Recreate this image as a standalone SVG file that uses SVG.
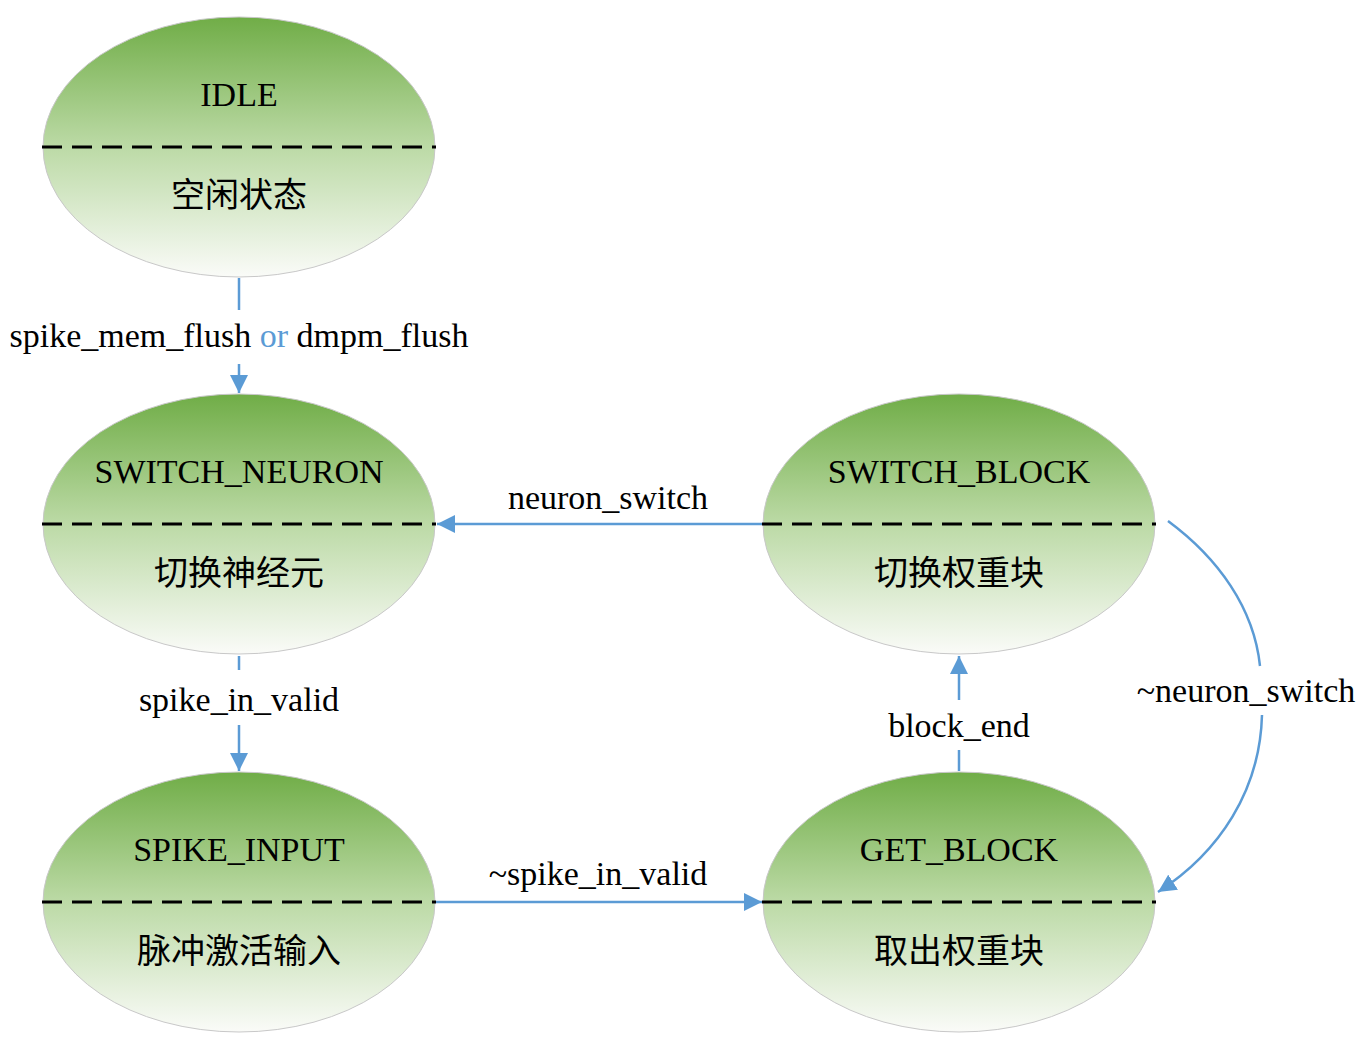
<svg xmlns="http://www.w3.org/2000/svg" width="1364" height="1044" viewBox="0 0 1364 1044">
<defs>
<linearGradient id="g" x1="0" y1="0" x2="0" y2="1">
<stop offset="0" stop-color="#70AD47"/>
<stop offset="0.5" stop-color="#BCDAA6"/>
<stop offset="1" stop-color="#FAFBF8"/>
</linearGradient>
<marker id="arr" markerUnits="userSpaceOnUse" markerWidth="20" markerHeight="18" refX="18" refY="9" orient="auto">
<path d="M0,0 L18,9 L0,18 Z" fill="#5B9BD5"/>
</marker>
<style>
.st ellipse{fill:url(#g);stroke:#C8C8C8;stroke-width:1}
.st line{stroke:#000;stroke-width:3;stroke-dasharray:20 10}
.t{font-family:"Liberation Serif","Times New Roman",serif;font-size:34px;fill:#000;text-anchor:middle}
.c{font-family:"Noto Sans CJK SC","Noto Sans",sans-serif;font-size:34px;fill:#000;text-anchor:middle}
.e{stroke:#5B9BD5;stroke-width:2.5;fill:none}
.lb{font-family:"Liberation Serif","Times New Roman",serif;font-size:34px;fill:#000;text-anchor:middle}
</style>
</defs>
<g id="IDLE" class="st">
<ellipse cx="239" cy="147" rx="196" ry="130"/>
<line x1="42" y1="147" x2="436" y2="147"/>
<text class="t" x="239" y="106">IDLE</text>
<text class="c" x="239" y="207">空闲状态</text>
</g>
<g id="SWITCH_NEURON" class="st">
<ellipse cx="239" cy="524" rx="196" ry="130"/>
<line x1="42" y1="524" x2="436" y2="524"/>
<text class="t" x="239" y="483">SWITCH_NEURON</text>
<text class="c" x="239" y="585">切换神经元</text>
</g>
<g id="SPIKE_INPUT" class="st">
<ellipse cx="239" cy="902" rx="196" ry="130"/>
<line x1="42" y1="902" x2="436" y2="902"/>
<text class="t" x="239" y="861">SPIKE_INPUT</text>
<text class="c" x="239" y="963">脉冲激活输入</text>
</g>
<g id="SWITCH_BLOCK" class="st">
<ellipse cx="959" cy="524" rx="196" ry="130"/>
<line x1="762" y1="524" x2="1156" y2="524"/>
<text class="t" x="959" y="483">SWITCH_BLOCK</text>
<text class="c" x="959" y="585">切换权重块</text>
</g>
<g id="GET_BLOCK" class="st">
<ellipse cx="959" cy="902" rx="196" ry="130"/>
<line x1="762" y1="902" x2="1156" y2="902"/>
<text class="t" x="959" y="861">GET_BLOCK</text>
<text class="c" x="959" y="963">取出权重块</text>
</g>
<g id="connectors">
<line class="e" x1="239" y1="278" x2="239" y2="310"/>
<line class="e" x1="239" y1="364" x2="239" y2="393" marker-end="url(#arr)"/>
<text class="lb" x="239" y="347">spike_mem_flush <tspan fill="#5B9BD5">or</tspan> dmpm_flush</text>

<line class="e" x1="762" y1="524" x2="437" y2="524" marker-end="url(#arr)"/>
<text class="lb" x="608" y="509">neuron_switch</text>

<line class="e" x1="239" y1="656" x2="239" y2="670"/>
<line class="e" x1="239" y1="725" x2="239" y2="771" marker-end="url(#arr)"/>
<text class="lb" x="239" y="711">spike_in_valid</text>

<line class="e" x1="436" y1="902" x2="762" y2="902" marker-end="url(#arr)"/>
<text class="lb" x="598" y="885">~spike_in_valid</text>

<line class="e" x1="959" y1="771" x2="959" y2="750"/>
<line class="e" x1="959" y1="700" x2="959" y2="656" marker-end="url(#arr)"/>
<text class="lb" x="959" y="737">block_end</text>

<path class="e" d="M1168,521 C1218,558 1254,608 1260,666"/>
<path class="e" d="M1262,715 C1260,790 1220,852 1158,892" marker-end="url(#arr)"/>
<text class="lb" x="1246" y="702">~neuron_switch</text>
</g>
</svg>
